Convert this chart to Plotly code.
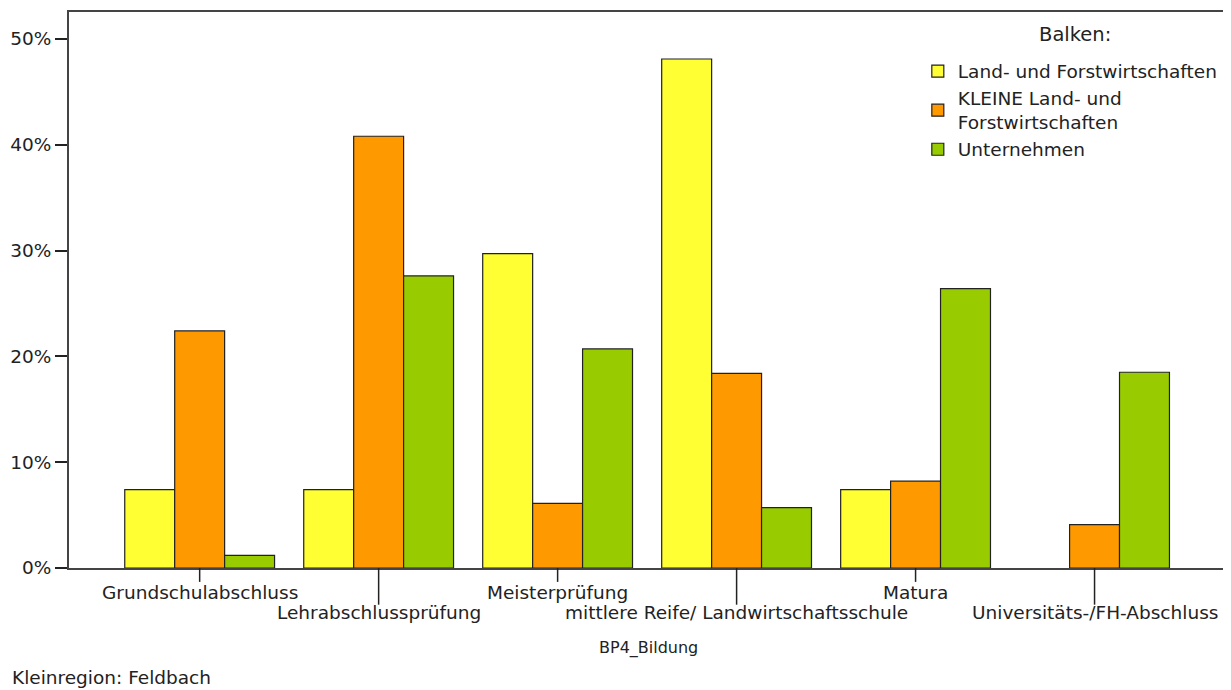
import plotly.graph_objects as go

categories = ["Grundschulabschluss", "Lehrabschlussprüfung", "Meisterprüfung",
              "mittlere Reife/ Landwirtschaftsschule", "Matura", "Universitäts-/FH-Abschluss"]
series_names = ["Land- und Forstwirtschaften", "KLEINE Land- und<br>Forstwirtschaften", "Unternehmen"]
land_forst = [7.4, 7.4, 29.7, 48.1, 7.4, 0.0]
kleine_land_forst = [22.4, 40.8, 6.1, 18.4, 8.2, 4.1]
unternehmen = [1.2, 27.6, 20.7, 5.7, 26.4, 18.5]
colors = ["#FFFF33", "#FF9900", "#99CC00"]
y_ticks = [0, 10, 20, 30, 40, 50]

FONT = "DejaVu Sans"
FS = 18.5
TXT = "#222222"
fig = go.Figure()
for name, vals, col in zip(series_names, [land_forst, kleine_land_forst, unternehmen], colors):
    fig.add_trace(go.Bar(x=categories, y=vals, name=name, marker_color=col,
                         marker_line_color="#222222",
                         marker_line_width=[1.2 if v > 0 else 0 for v in vals]))

ann = []
shapes = []
for i, c in enumerate(categories):
    low = i % 2 == 1
    shapes.append(dict(type="line", xref="x", yref="y domain", x0=c, x1=c,
                       y0=0, y1=-0.066 if low else -0.025,
                       line=dict(color="#222222", width=1.5)))
    ann.append(dict(text=c, x=c, xref="x", yref="paper", y=-0.0806 if low else -0.0448,
                    yanchor="middle", xanchor="center", showarrow=False,
                    font=dict(family=FONT, size=FS, color=TXT)))
ann.append(dict(text="BP4_Bildung", x=0.5, xref="paper", yref="paper", y=-0.143,
                yanchor="middle", showarrow=False,
                font=dict(family=FONT, size=16, color=TXT)))
ann.append(dict(text="Kleinregion: Feldbach", x=-0.0508, xref="paper", yref="paper", y=-0.197,
                xanchor="left", yanchor="middle", showarrow=False,
                font=dict(family=FONT, size=FS, color=TXT)))
ann.append(dict(text="Balken:", x=0.869, xref="paper", yref="paper", y=0.960,
                xanchor="center", yanchor="middle", showarrow=False,
                font=dict(family=FONT, size=FS + 1, color=TXT)))

fig.update_layout(
    width=1223, height=682,
    margin=dict(l=59, r=3, t=2, b=122),
    paper_bgcolor="white", plot_bgcolor="white",
    barmode="group", bargap=0.163, bargroupgap=0,
    font=dict(family=FONT, size=FS, color=TXT),
    xaxis=dict(range=[-0.73, 5.74], showticklabels=False, ticks="",
               showline=True, linecolor="#444444", linewidth=1.5, mirror=True,
               showgrid=False, zeroline=False),
    yaxis=dict(range=[0, 52.54], tickvals=y_ticks, ticktext=[f"{v}%" for v in y_ticks],
               ticks="outside", ticklen=12, tickcolor="#222222", tickwidth=1.5,
               showline=True, linecolor="#444444", linewidth=2, mirror=True,
               showgrid=False, zeroline=False,
               tickfont=dict(family=FONT, size=FS, color=TXT)),
    legend=dict(x=0.733, y=0.927, xanchor="left", yanchor="top",
                bgcolor="rgba(0,0,0,0)",
                font=dict(family=FONT, size=FS, color=TXT),
                tracegroupgap=0, itemwidth=30),
    annotations=ann, shapes=shapes,
)
fig.write_html("out.html")
